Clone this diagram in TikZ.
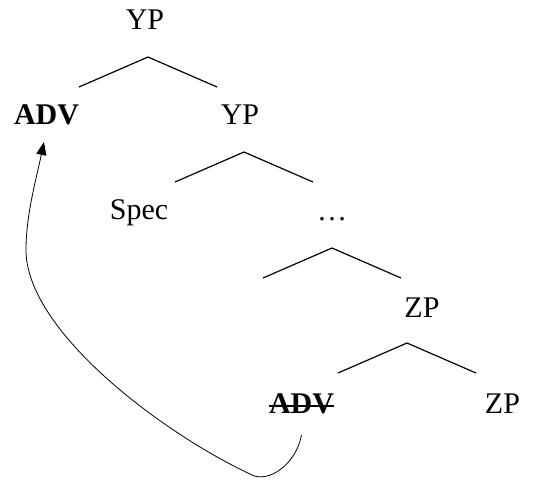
\documentclass[tikz,border=0pt]{standalone}
\usepackage{fontspec}
\setmainfont{Liberation Serif}
\usetikzlibrary{arrows.meta}

\begin{document}
\begin{tikzpicture}[x=1pt, y=-1pt,
    word/.style={inner sep=0pt, anchor=base, font=\fontsize{30}{36}\selectfont},
    branch/.style={line width=1.2pt},
    move/.style={line width=0.8pt},
    >={Triangle[length=13pt,width=10pt]}]
  \useasboundingbox (0,0) rectangle (539,480);

  \node[word] (yp1) at (145,29) {YP};
  \node[word] (adv) at (46.5,124) {\bfseries ADV};
  \node[word] (yp2) at (240,124) {YP};
  \node[word] (spec) at (139,219) {Spec};
  \node[word] (dots) at (332,220) {\dots};
  \node[word] (zp1) at (422,317) {ZP};
  \node[word] (advlow) at (301.5,413) {\bfseries ADV};
  \node[word] (zp2) at (502.5,413) {ZP};

  % branches under each phrase
  \foreach \n/\x/\y in {1/148/57, 2/244/152, 3/332/248, 4/407/343}{
    \coordinate (top\n) at (\x,\y);
    \draw[branch] (top\n) ++(-69,30) -- (top\n) -- ++(69,30);
  }

  % trace is struck out
  \draw[line width=1.6pt] ([yshift=7pt]advlow.base west) -- ([yshift=7pt]advlow.base east);

  % movement
  \draw[move,->] ([yshift=-22pt]advlow.base)
    .. controls (296,465) and (268,483) .. (252,475)
    .. controls (160,432) and (26,330) .. (26,250)
    .. controls (26,215) and (36,180) .. ([xshift=-2.5pt,yshift=-18pt]adv.base);
\end{tikzpicture}
\end{document}
